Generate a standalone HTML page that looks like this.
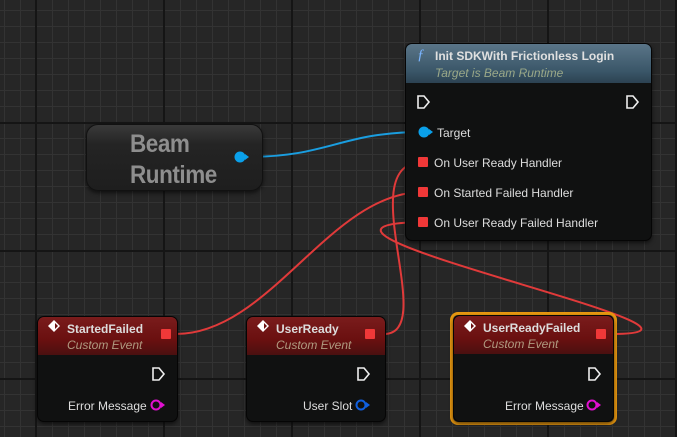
<!DOCTYPE html>
<html><head><meta charset="utf-8"><style>
*{margin:0;padding:0;box-sizing:border-box}
body{width:677px;height:437px;overflow:hidden;background:#262626;font-family:"Liberation Sans",sans-serif;position:relative}
.grid{position:absolute;inset:0;
background-image:
linear-gradient(to right,#151515 2px,transparent 2px),
linear-gradient(to bottom,#151515 2px,transparent 2px),
linear-gradient(to right,#333 1px,transparent 1px),
linear-gradient(to bottom,#333 1px,transparent 1px);
background-size:128px 128px,128px 128px,16px 16px,16px 16px;
background-position:35px 122px,35px 122px,4px 10px,4px 10px}
.node{position:absolute;background:#101111;border:1px solid #050505;border-radius:7px;box-shadow:0 2px 4px rgba(0,0,0,.6);overflow:hidden}
.hdr{position:absolute;left:0;right:0;top:0}
.t{position:absolute;color:#ddd;font-size:12px;white-space:nowrap}
.b{font-weight:bold}
.sub{color:#b09a80;font-style:italic;font-size:12px}
.rp{position:absolute;width:10px;height:10px;background:#f03838;border-radius:1px}
svg.w{position:absolute;left:0;top:0}
</style></head><body>
<div class="grid"></div>

<svg class="w" width="677" height="437">
<path d="M246,157 C330,157 340,132 423,132" stroke="#1a9ee0" stroke-width="2" fill="none"/>
<path d="M176,334 C270,334 330,192 423,192" stroke="#e03a3a" stroke-width="2" fill="none"/>
<path d="M384,334 C440,334 350,162 423,162" stroke="#e03a3a" stroke-width="2" fill="none"/>
<path d="M612,334 C770,334 230,225 423,222" stroke="#e03a3a" stroke-width="2" fill="none"/>
</svg>

<!-- Beam Runtime -->
<div class="node" style="left:86px;top:124px;width:177px;height:67px;border-radius:12px;background:linear-gradient(#3a3a3a,#242424 30%,#1e1e1e);border-color:#111">
<div class="t b" style="left:43px;top:4px;font-size:25px;color:#8e8e8e;line-height:31px;letter-spacing:-0.5px;transform:scaleX(0.9);transform-origin:left top">Beam<br>Runtime</div>
</div>
<svg class="w" width="677" height="437" style="pointer-events:none">
<circle cx="240" cy="157" r="5.5" fill="#0aa0ea"/><path d="M245,154 L249,157 L245,160Z" fill="#0aa0ea"/>
</svg>

<!-- Init node -->
<div class="node" style="left:405px;top:43px;width:247px;height:198px">
<div class="hdr" style="height:39px;background:linear-gradient(to bottom,#5a7588,#3a5668 70%,#2c4252)"></div>
<div class="t" style="left:11px;top:3px;color:#7ab4ff;font-style:italic;font-size:15px;font-family:'Liberation Serif',serif">ƒ</div>
<div class="t b" style="left:29px;top:5px;color:#e0e0e0">Init SDKWith Frictionless Login</div>
<div class="t sub" style="left:29px;top:22px;color:#9aa888">Target is Beam Runtime</div>
<div class="t" style="left:31px;top:82px">Target</div>
<div class="t" style="left:28px;top:112px">On User Ready Handler</div>
<div class="t" style="left:28px;top:142px">On Started Failed Handler</div>
<div class="t" style="left:28px;top:172px">On User Ready Failed Handler</div>
</div>

<!-- StartedFailed -->
<div class="node" style="left:37px;top:316px;width:141px;height:106px">
<div class="hdr" style="height:38px;background:linear-gradient(to bottom,#7a1c1c,#6a1010 60%,#4a1010)"></div>
<div class="t b" style="left:29px;top:5px">StartedFailed</div>
<div class="t sub" style="left:29px;top:21px">Custom Event</div>
<div class="t" style="left:30px;top:82px">Error Message</div>
</div>
<!-- UserReady -->
<div class="node" style="left:246px;top:316px;width:140px;height:106px">
<div class="hdr" style="height:38px;background:linear-gradient(to bottom,#7a1c1c,#6a1010 60%,#4a1010)"></div>
<div class="t b" style="left:29px;top:5px">UserReady</div>
<div class="t sub" style="left:29px;top:21px">Custom Event</div>
<div class="t" style="left:56px;top:82px">User Slot</div>
</div>
<!-- UserReadyFailed -->
<div style="position:absolute;left:450px;top:312px;width:167px;height:113px;border:3px solid #e89810;border-radius:8px"></div>
<div class="node" style="left:453px;top:315px;width:161px;height:107px">
<div class="hdr" style="height:38px;background:linear-gradient(to bottom,#7a1c1c,#6a1010 60%,#4a1010)"></div>
<div class="t b" style="left:29px;top:5px">UserReadyFailed</div>
<div class="t sub" style="left:29px;top:21px">Custom Event</div>
<div class="t" style="left:51px;top:83px">Error Message</div>
</div>

<svg class="w" width="677" height="437">
<g fill="none" stroke="#eee" stroke-width="1.6">
<path d="M418,96 h6 l5,6 l-5,6 h-6z"/>
<path d="M627,96 h6 l5,6 l-5,6 h-6z"/>
<path d="M153,368 h6 l5,6 l-5,6 h-6z"/>
<path d="M358,368 h6 l5,6 l-5,6 h-6z"/>
<path d="M589,368 h6 l5,6 l-5,6 h-6z"/>
</g>
<circle cx="424" cy="132" r="5.5" fill="#0aa0ea"/><path d="M429,129 L433,132 L429,135Z" fill="#0aa0ea"/>
<circle cx="156" cy="405" r="4.5" fill="none" stroke="#e010d0" stroke-width="2"/><path d="M161,402 L165,405 L161,408Z" fill="#e010d0"/>
<circle cx="361" cy="405" r="4.5" fill="none" stroke="#1060e0" stroke-width="2"/><path d="M366,402 L370,405 L366,408Z" fill="#1060e0"/>
<circle cx="592" cy="405" r="4.5" fill="none" stroke="#e010d0" stroke-width="2"/><path d="M597,402 L601,405 L597,408Z" fill="#e010d0"/>
<g fill="#fff">
<path d="M54,320 l6,6 l-6,6 l-6,-6z"/><path d="M263,320 l6,6 l-6,6 l-6,-6z"/><path d="M470,320 l6,6 l-6,6 l-6,-6z"/>
</g>
<g fill="#6a1010"><path d="M55,323 l3,3 l-3,3z"/><path d="M264,323 l3,3 l-3,3z"/><path d="M471,323 l3,3 l-3,3z"/></g>
</svg>
<div class="rp" style="left:418px;top:157px"></div>
<div class="rp" style="left:418px;top:187px"></div>
<div class="rp" style="left:418px;top:217px"></div>
<div class="rp" style="left:161px;top:329px"></div>
<div class="rp" style="left:365px;top:329px"></div>
<div class="rp" style="left:596px;top:329px"></div>
</body></html>
